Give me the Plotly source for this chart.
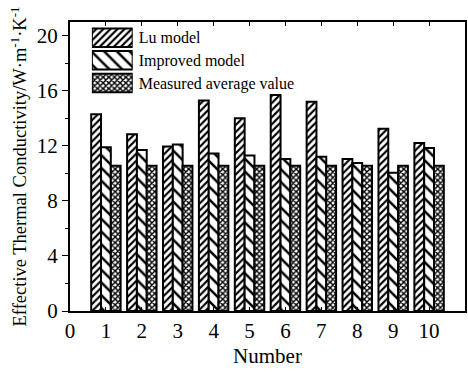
import plotly.graph_objects as go

numbers = [1, 2, 3, 4, 5, 6, 7, 8, 9, 10]
lu_model = [14.3, 12.85, 11.95, 15.3, 14.0, 15.7, 15.2, 11.05, 13.25, 12.2]
improved_model = [11.9, 11.7, 12.1, 11.45, 11.3, 11.05, 11.2, 10.75, 10.05, 11.85]
measured_avg = [10.55, 10.55, 10.55, 10.55, 10.55, 10.55, 10.55, 10.55, 10.55, 10.55]
series_names = ["Lu model", "Improved model", "Measured average value"]
x_ticks = [0, 1, 2, 3, 4, 5, 6, 7, 8, 9, 10]
y_ticks = [0, 4, 8, 12, 16, 20]

FONT = "Liberation Serif, Times New Roman, serif"
patterns = [
    dict(shape="/", size=5, solidity=0.42, fgcolor="black", bgcolor="white", fgopacity=1),
    dict(shape="\\", size=9, solidity=0.28, fgcolor="black", bgcolor="white", fgopacity=1),
    dict(shape="x", size=4, solidity=0.6, fgcolor="black", bgcolor="white", fgopacity=1),
]
series_vals = [lu_model, improved_model, measured_avg]

fig = go.Figure()
for name, vals, pat in zip(series_names, series_vals, patterns):
    fig.add_trace(go.Bar(
        x=numbers, y=vals, name=name,
        marker=dict(color="white", pattern=pat, line=dict(color="black", width=2)),
        showlegend=False,
    ))

# legend drawn as a small bar panel (swatches + labels)
for name, pat in zip(series_names, patterns):
    fig.add_trace(go.Bar(
        x=[1], y=[name], orientation="h", xaxis="x2", yaxis="y2",
        marker=dict(color="white", pattern=pat, line=dict(color="black", width=2)),
        showlegend=False, hoverinfo="skip",
    ))

fig.update_layout(
    width=468, height=372,
    margin=dict(l=70, r=1, t=22, b=61),
    paper_bgcolor="white", plot_bgcolor="white",
    font=dict(family=FONT, color="black", size=20),
    barmode="group", bargap=0.18, bargroupgap=0,
    xaxis=dict(
        range=[0, 11], tickvals=x_ticks, ticktext=[str(v) for v in x_ticks],
        ticks="inside", ticklen=4, tickwidth=1, tickcolor="black",
        showline=True, linecolor="black", linewidth=2, mirror="ticks",
        showgrid=False, zeroline=False,
        tickfont=dict(size=21),
        title=dict(text="Number", font=dict(size=21), standoff=6),
    ),
    yaxis=dict(
        range=[0, 21], tickvals=y_ticks, ticktext=[str(v) for v in y_ticks],
        ticks="outside", ticklen=6, tickwidth=1, tickcolor="black",
        minor=dict(dtick=2, ticks="outside", ticklen=3, tickcolor="black", tickwidth=1),
        showline=True, linecolor="black", linewidth=2, mirror=True,
        showgrid=False, zeroline=False,
        tickfont=dict(size=21),
        title=dict(text="Effective Thermal Conductivity/W·m<sup>-1</sup>·K<sup>-1</sup>",
                   font=dict(size=18.5), standoff=5),
    ),
    xaxis2=dict(domain=[0.0554, 0.1587], anchor="y2", range=[0, 1],
                visible=False, fixedrange=True),
    yaxis2=dict(domain=[0.75, 0.985], anchor="x2", side="right",
                autorange="reversed", showline=False, showgrid=False,
                zeroline=False, ticks="", ticklabelstandoff=5,
                tickfont=dict(size=16)),
)
fig.write_html("out.html",
               config={"displayModeBar": False},
               post_script="document.body.style.margin='0';document.body.style.padding='0';")
